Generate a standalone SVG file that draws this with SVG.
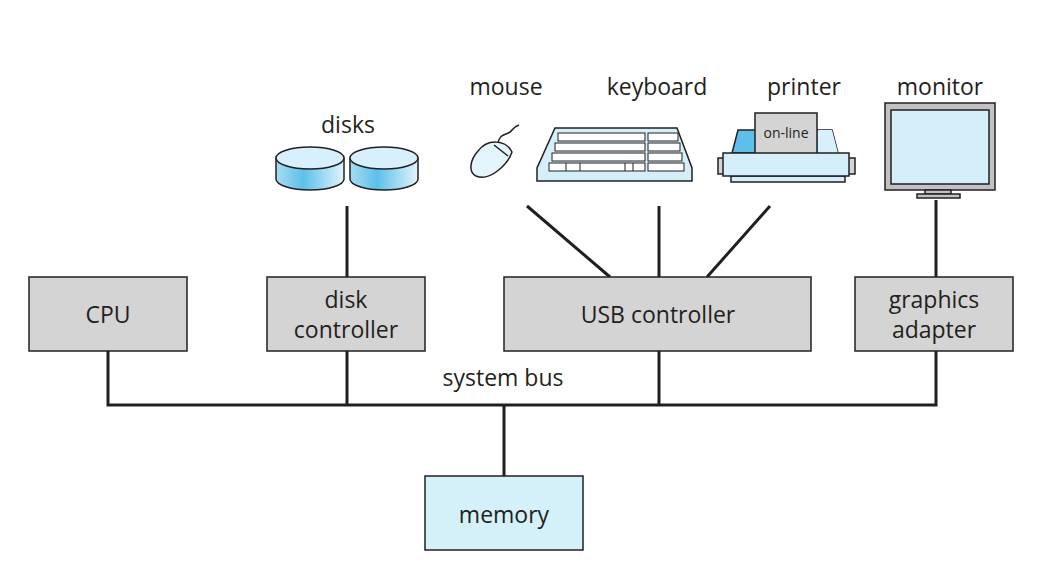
<svg xmlns="http://www.w3.org/2000/svg" width="1042" height="587" viewBox="0 0 1042 587">
<style>
.box{fill:#d4d4d4;stroke:#231f20;stroke-width:1.5}
.mem{fill:#d4f0f8;stroke:#231f20;stroke-width:1.5}
.t{font-family:"Open Sans","Liberation Sans",sans-serif;font-size:23px;fill:#231f20;text-anchor:middle}
.w{stroke:#231f20;stroke-width:3;fill:none}
.o{stroke:#231f20;stroke-width:1.5}
.lb{fill:#d4eefa}
.key{fill:#fff;stroke:#231f20;stroke-width:1}
</style>
<defs>
<linearGradient id="cyl" x1="0" x2="1">
<stop offset="0" stop-color="#a8dcf2"/><stop offset="0.4" stop-color="#5cc0ea"/><stop offset="1" stop-color="#e2f4fc"/>
</linearGradient>
<g id="disk">
<path d="M-34,0 V21 A34,11 0 0 0 34,21 V0" fill="url(#cyl)" class="o"/>
<ellipse cx="0" cy="0" rx="34" ry="11" fill="#d8f0fb" class="o"/>
</g>
</defs>
<g id="connectors">
<path class="w" d="M108,351V405H936V351M347,351V405M659,351V405M504,405V476"/>
<path class="w" d="M347,206V277M527,206L610,277M659,206V277M770,206L707,277M936,200V277"/>
</g>
<g id="cpu"><rect class="box" x="29" y="277" width="158" height="74"/><text class="t" x="108" y="323">CPU</text></g>
<g id="disk-controller"><rect class="box" x="267" y="277" width="158" height="74"/><text class="t" x="346" y="308">disk</text><text class="t" x="346" y="338">controller</text></g>
<g id="usb-controller"><rect class="box" x="504" y="277" width="307" height="74"/><text class="t" x="658" y="323">USB controller</text></g>
<g id="graphics-adapter"><rect class="box" x="855" y="277" width="158" height="74"/><text class="t" x="934" y="308">graphics</text><text class="t" x="934" y="338">adapter</text></g>
<g id="memory"><rect class="mem" x="425" y="476" width="158" height="74"/><text class="t" x="504" y="523">memory</text></g>
<text class="t" x="503" y="386">system bus</text>
<g id="disks">
<text class="t" x="348" y="133">disks</text>
<use href="#disk" x="310" y="158"/>
<use href="#disk" x="384" y="158"/>
</g>
<g id="mouse">
<text class="t" x="506" y="95">mouse</text>
<path d="M498,143 C500,132 508,136 512,130 C514,127 516,126 519,125" fill="none" class="o" stroke-width="1"/>
<path d="M478,151 C488,138 506,140 512,152 C508,164 490,182 476,176 C468,172 470,160 478,151Z" fill="#e2f4fc" class="o"/>
<path d="M494,145 L508,156" class="o" stroke-width="1"/>
</g>
<g id="keyboard">
<text class="t" x="657" y="95">keyboard</text>
<path d="M555,128 H677 L692,168 V181 H537 V168 Z" class="lb o"/>
<g class="key">
<rect x="558" y="133" width="87" height="8"/><rect x="648" y="133" width="30" height="8"/>
<rect x="555" y="143" width="90" height="8"/><rect x="648" y="143" width="32" height="8"/>
<rect x="552" y="153" width="93" height="8"/><rect x="648" y="153" width="34" height="8"/>
<rect x="549" y="163" width="96" height="8"/><rect x="648" y="163" width="36" height="8"/>
</g>
<path d="M566,163V171M580,163V171M625,163V171M633,163V171" stroke="#231f20" stroke-width="1"/>
</g>
<g id="printer">
<text class="t" x="804" y="95">printer</text>
<path d="M738,130 H832 L838,153 H732 Z" fill="#5cc0ea" class="o"/>
<path d="M818,130 H832 L838,153 H818 Z" fill="#d8f0fb"/>
<rect x="755" y="113" width="62" height="42" fill="#d4d4d4" class="o"/>
<text x="786" y="138" font-family="'Open Sans','Liberation Sans',sans-serif" font-size="14" fill="#231f20" text-anchor="middle">on-line</text>
<rect x="718" y="158" width="10" height="16" class="box"/><rect x="848" y="158" width="7" height="16" class="box"/>
<rect x="731" y="176" width="114" height="6" class="lb o"/>
<rect x="723" y="153" width="126" height="23" class="lb o"/>
</g>
<g id="monitor">
<text class="t" x="940" y="95">monitor</text>
<rect x="885" y="103" width="110" height="87" fill="#c2c2c2" class="o"/>
<rect x="891" y="110" width="98" height="74" class="lb o"/>
<rect x="925" y="190" width="26" height="4" fill="#c2c2c2" class="o" stroke-width="1"/>
<rect x="917" y="194" width="43" height="4" fill="#c2c2c2" class="o" stroke-width="1"/>
</g>
</svg>
